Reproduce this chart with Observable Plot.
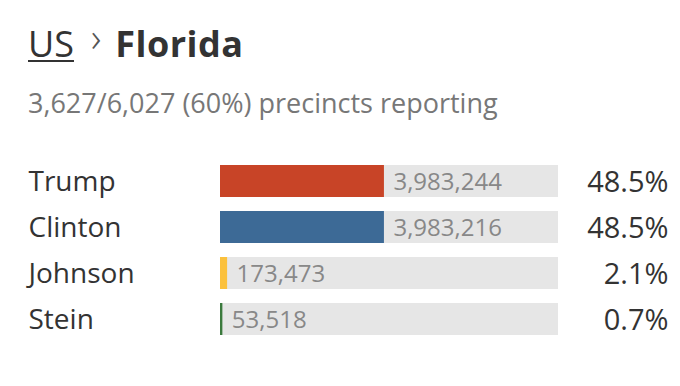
<!DOCTYPE html>
<html>
<head>
<meta charset="utf-8">
<script src="https://cdn.jsdelivr.net/npm/d3@7"></script>
<script src="https://cdn.jsdelivr.net/npm/@observablehq/plot@0.6"></script>
<style>
  html, body { margin: 0; padding: 0; background: #fff; }
  body { width: 680px; height: 386px; position: relative; overflow: hidden; font-family: "Open Sans", sans-serif; color: #333; }
  #title { position: absolute; left: 28px; top: 22px; font-size: 36px; line-height: 40px; white-space: nowrap; }
  #title .us { text-decoration: underline; text-decoration-thickness: 2px; text-underline-offset: 3px; font-weight: 400; color: #333; }
  #title .sep { display: inline-block; font-size: 40px; font-weight: 300; color: #555; margin: 0 14px 0 17px; position: relative; top: -5px; }
  #title .st { font-weight: 700; color: #333; letter-spacing: 0.5px; }
  #sub { position: absolute; left: 28px; top: 87px; font-size: 27px; line-height: 32px; color: #777; white-space: nowrap; }
  #chart { position: absolute; left: 0; top: 140px; }
</style>
</head>
<body>
<div id="title"><span class="us">US</span><span class="sep">›</span><span class="st">Florida</span></div>
<div id="sub">3,627/6,027 (60%) precincts reporting</div>
<div id="chart"></div>
<script>
const candidates = ["Trump", "Clinton", "Johnson", "Stein"];
const votes = [3983244, 3983216, 173473, 53518];
const percents = [48.5, 48.5, 2.1, 0.7];
const colors = ["#c84427", "#3d6a96", "#fbc13d", "#3b7a3d"];

const rows = candidates.map((c, i) => ({candidate: c, votes: votes[i], pct: percents[i], color: colors[i]}));
const fmt = d3.format(",");

const chart = Plot.plot({
  width: 680,
  height: 246,
  marginLeft: 220,
  marginRight: 122,
  marginTop: 17,
  marginBottom: 43,
  style: {fontFamily: "Open Sans, sans-serif", background: "transparent"},
  x: {domain: [0, 100], axis: null},
  y: {domain: candidates, paddingInner: 0.312, paddingOuter: 0.156, axis: null},
  marks: [
    Plot.barX(rows, {y: "candidate", x1: 0, x2: 100, fill: "#e6e6e6"}),
    Plot.barX(rows, {y: "candidate", x1: 0, x2: "pct", fill: "color"}),
    Plot.text(rows, {y: "candidate", x: "pct", text: d => fmt(d.votes), textAnchor: "start", dx: 9, fontSize: 24, fill: "#888", dy: 1}),
    Plot.text(rows, {y: "candidate", frameAnchor: "left", text: "candidate", textAnchor: "start", dx: -192, fontSize: 28, fill: "#333", dy: 1}),
    Plot.text(rows, {y: "candidate", frameAnchor: "right", text: d => d.pct.toFixed(1) + "%", textAnchor: "end", dx: 110, fontSize: 29, fill: "#333", dy: 1})
  ]
});
document.getElementById("chart").appendChild(chart);
</script>
</body>
</html>
